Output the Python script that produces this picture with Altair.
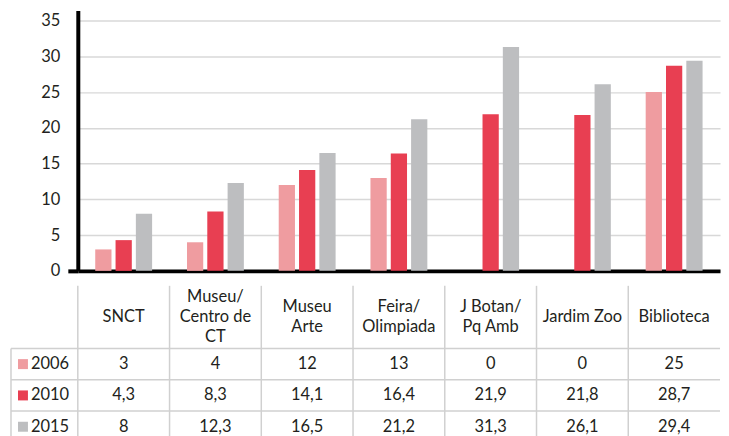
import altair as alt
import pandas as pd

categories = ["SNCT", "Museu/\nCentro de\nCT", "Museu\nArte", "Feira/\nOlimpiada",
              "J Botan/\nPq Amb", "Jardim Zoo", "Biblioteca"]
years = ["2006", "2010", "2015"]
v2006 = [3, 4, 12, 13, 0, 0, 25]
v2010 = [4.3, 8.3, 14.1, 16.4, 21.9, 21.8, 28.7]
v2015 = [8, 12.3, 16.5, 21.2, 31.3, 26.1, 29.4]
colors = ["#EF9CA0", "#E83F52", "#BDBEC0"]
y_ticks = [0, 5, 10, 15, 20, 25, 30, 35]

series = {"2006": v2006, "2010": v2010, "2015": v2015}

FONT = "Lato"
TXT = "#231F20"
LINE = "#D0D0D0"
W = 644          # plot width
TH = 157         # table height
FS = 16.5
LH = 20

def fmt(v):
    return ("%g" % v).replace(".", ",")

rows = []
for yr in years:
    for i, c in enumerate(categories):
        rows.append({"cat": c, "year": yr, "value": series[yr][i]})
df = pd.DataFrame(rows)

color_scale = alt.Scale(domain=years, range=colors)

bars = alt.Chart(df).mark_bar().encode(
    x=alt.X("cat:N", sort=categories,
            scale=alt.Scale(paddingInner=0.38, paddingOuter=0.19),
            axis=alt.Axis(labels=False, ticks=False, title=None, domainColor="black",
                          domainWidth=4, grid=False)),
    xOffset=alt.XOffset("year:N", sort=years, scale=alt.Scale(paddingInner=0.2)),
    y=alt.Y("value:Q", scale=alt.Scale(domain=[0, 36.4], nice=False),
            axis=alt.Axis(values=y_ticks, title=None, domainColor="black", domainWidth=4,
                          tickColor="black", tickWidth=4, tickSize=10,
                          tickOpacity={"condition": {"test": "datum.value == 0", "value": 1}, "value": 0},
                          labelFont=FONT, labelFontSize=16.5, labelColor=TXT, labelPadding=8,
                          gridColor="#D8D8D8", gridWidth=1.5)),
    color=alt.Color("year:N", scale=color_scale, legend=None),
).properties(width=W, height=261)

# ---- table ----
n = len(categories)
col_px = W / n
unit_px = TH / 5.0
LEFT = -67 / col_px
hdr = []
for i, c in enumerate(categories):
    k = c.count("\n") + 1
    hdr.append({"label": c, "x": i + 0.5, "y": 1.0 - (k - 1) / 2 * LH / unit_px})
hdr = pd.DataFrame(hdr)
cells = []
for r, yr in enumerate(years):
    for i in range(n):
        cells.append({"x": i + 0.5, "y": 2.5 + r, "t": fmt(series[yr][i])})
cells = pd.DataFrame(cells)
vr = [{"x": float(i), "y": 0.0, "y2": 5.0} for i in range(n)]
vr.append({"x": LEFT, "y": 2.0, "y2": 5.0})
vr = pd.DataFrame(vr)
hr = pd.DataFrame([{"y": float(k), "x": LEFT, "x2": float(n)} for k in [2, 3, 4]])
leg = pd.DataFrame({"year": years, "y": [2.5 + r for r in range(3)],
                    "xs": [-55 / col_px] * 3, "xt": [-47 / col_px] * 3})

xs = alt.Scale(domain=[0, n], nice=False, zero=False)
ys = alt.Scale(domain=[0, 5], nice=False, zero=False, reverse=True)

vrules = alt.Chart(vr).mark_rule(color=LINE, strokeWidth=1.5).encode(
    x=alt.X("x:Q", scale=xs, axis=None), y=alt.Y("y:Q", scale=ys, axis=None), y2="y2:Q")
hrules = alt.Chart(hr).mark_rule(color=LINE, strokeWidth=1.5).encode(
    y=alt.Y("y:Q", scale=ys, axis=None), x=alt.X("x:Q", scale=xs, axis=None), x2="x2:Q")
htext = alt.Chart(hdr).mark_text(font=FONT, fontSize=FS, color=TXT, lineBreak="\n",
                                 lineHeight=LH, baseline="middle", align="center").encode(
    x=alt.X("x:Q", scale=xs, axis=None), y=alt.Y("y:Q", scale=ys, axis=None), text="label:N")
ctext = alt.Chart(cells).mark_text(font=FONT, fontSize=FS, color=TXT, baseline="middle",
                                   align="center").encode(
    x=alt.X("x:Q", scale=xs, axis=None), y=alt.Y("y:Q", scale=ys, axis=None), text="t:N")
lsq = alt.Chart(leg).mark_square(size=100, opacity=1).encode(
    x=alt.X("xs:Q", scale=xs, axis=None), y=alt.Y("y:Q", scale=ys, axis=None),
    color=alt.Color("year:N", scale=color_scale, legend=None))
ltxt = alt.Chart(leg).mark_text(font=FONT, fontSize=FS, color=TXT, baseline="middle",
                                align="left").encode(
    x=alt.X("xt:Q", scale=xs, axis=None), y=alt.Y("y:Q", scale=ys, axis=None), text="year:N")

table = alt.layer(vrules, hrules, htext, ctext, lsq, ltxt).properties(width=W, height=TH)

chart = alt.vconcat(bars, table, spacing=5).properties(
    padding={"left": 2, "top": 2, "right": 0, "bottom": 0}
).configure_view(stroke=None).resolve_scale(color="shared")

chart.save("out.html", embed_options={"renderer": "svg", "actions": False})
